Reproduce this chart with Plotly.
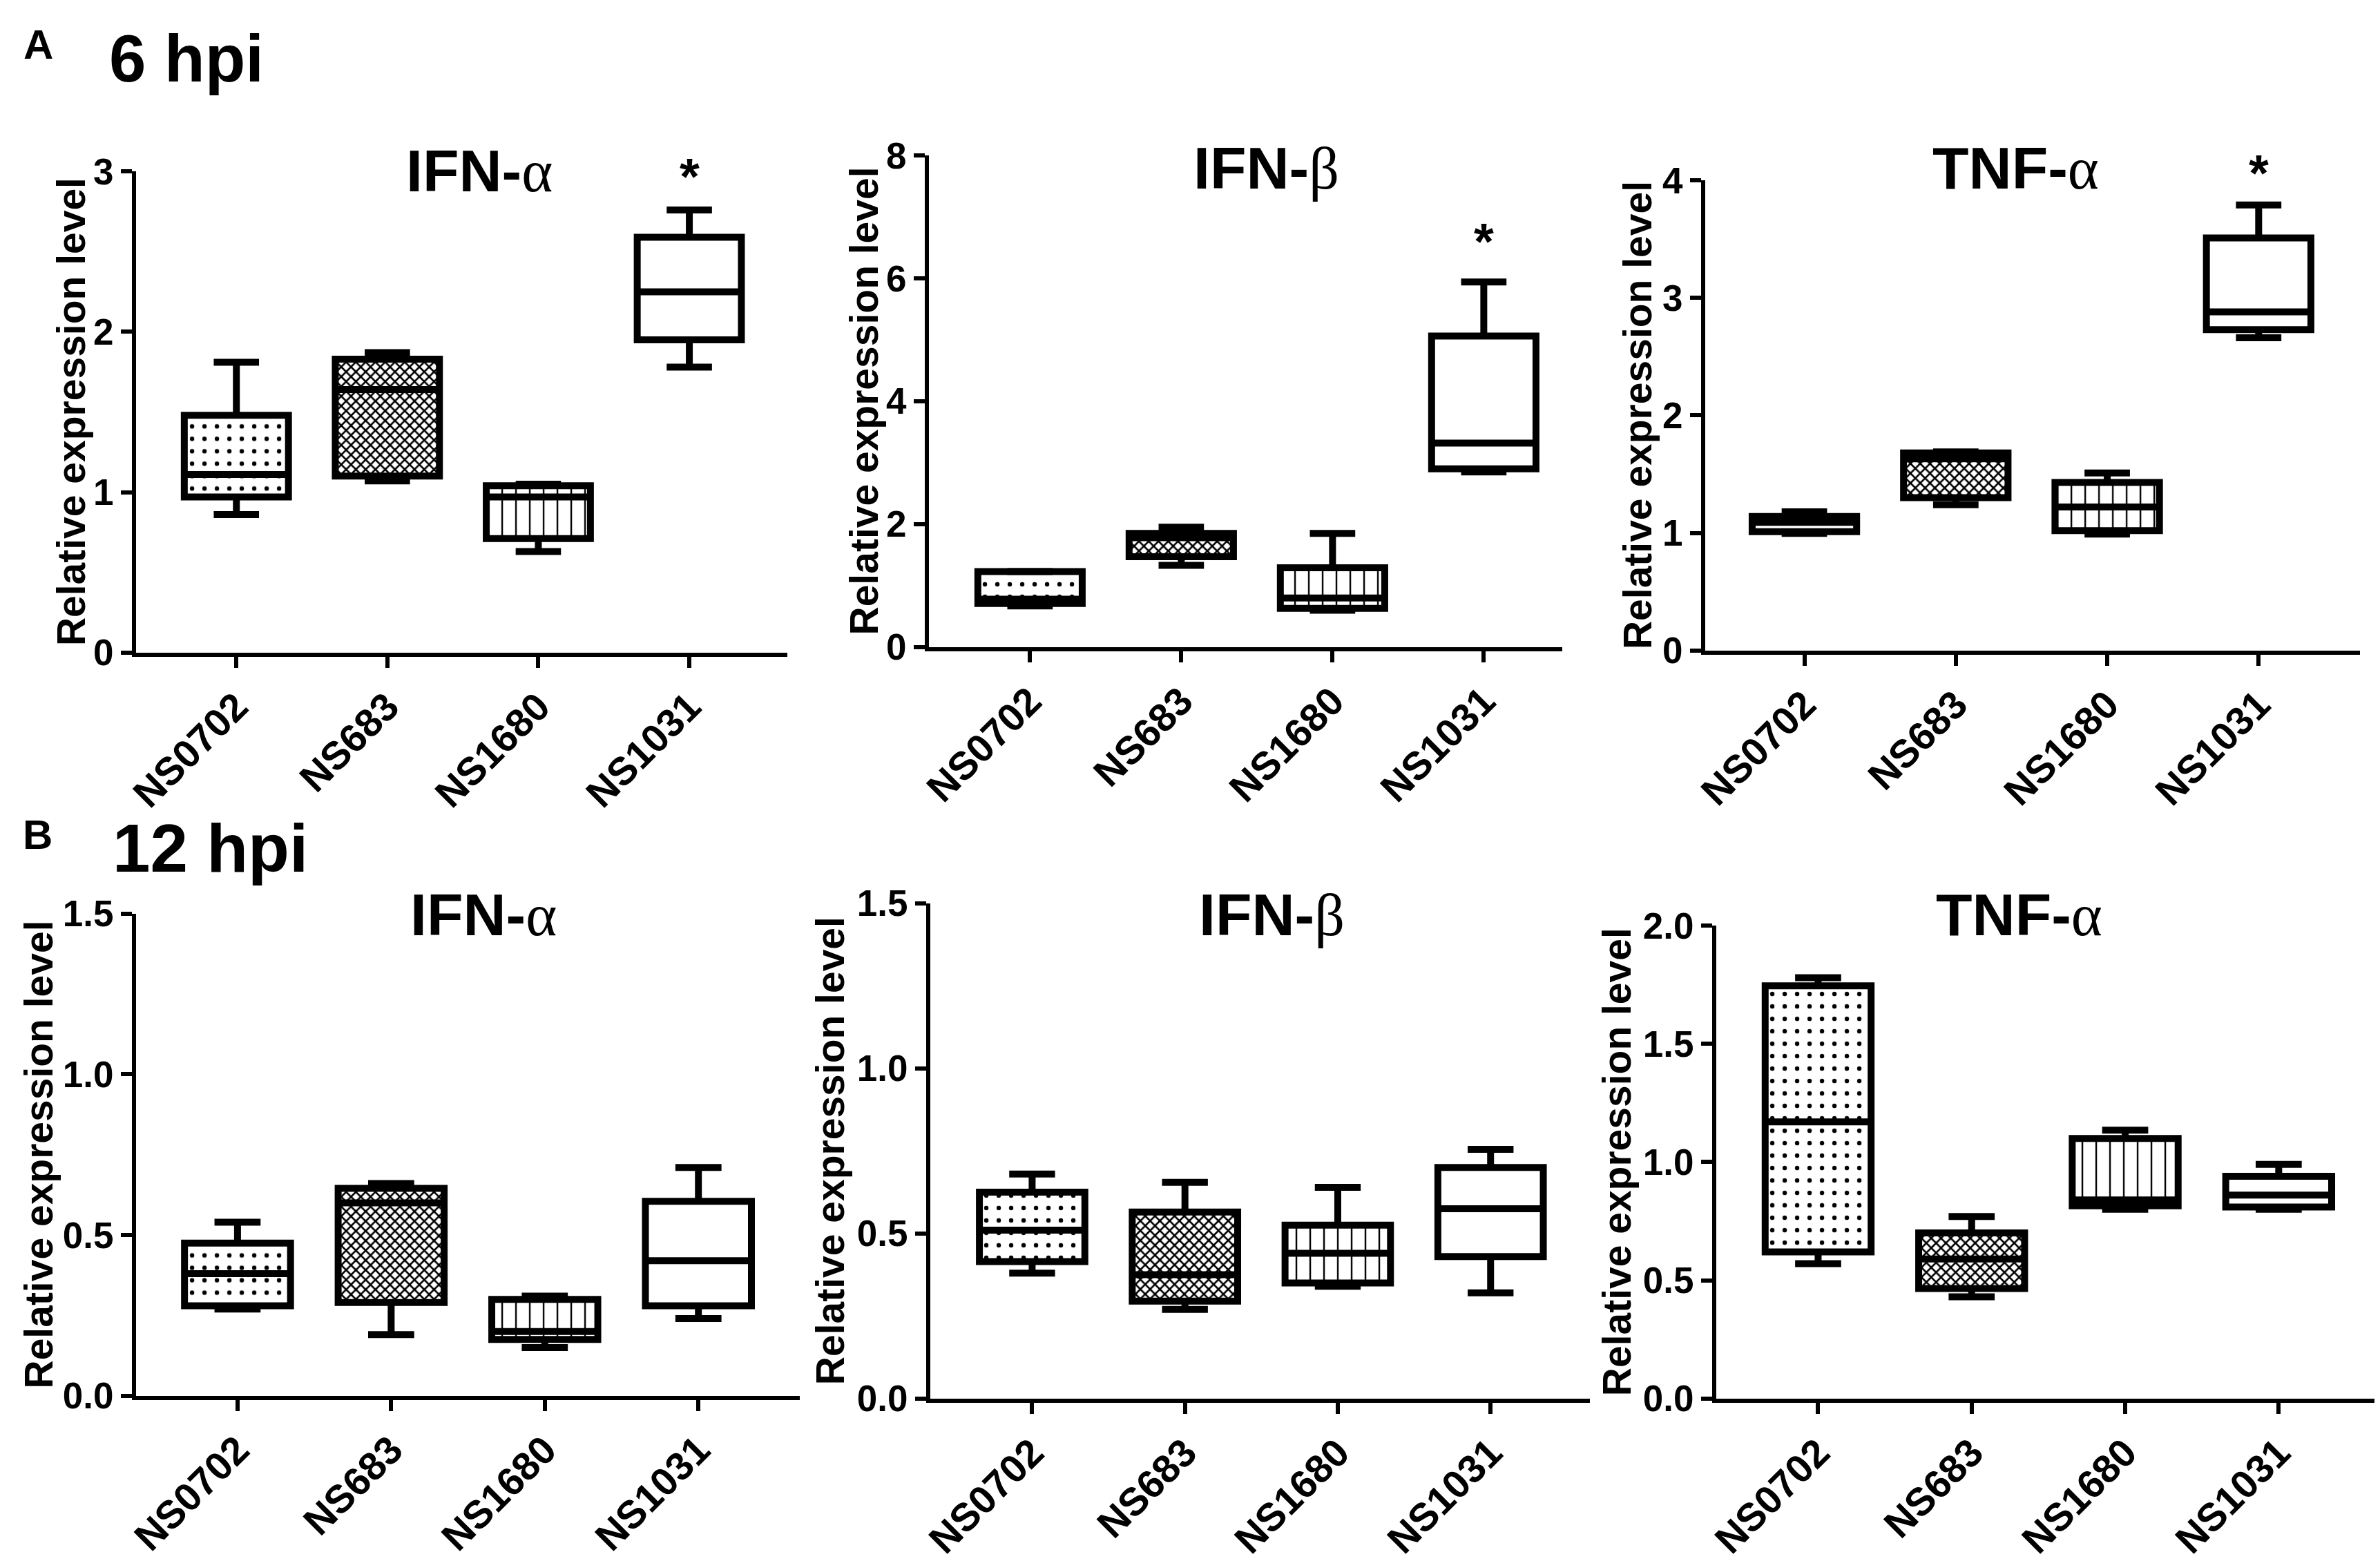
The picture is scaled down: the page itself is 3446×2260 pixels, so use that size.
import plotly.graph_objects as go

W, H = 3446, 2260
FONT = "Liberation Sans, Arial, sans-serif"

strains = ["NS0702", "NS683", "NS1680", "NS1031"]

# box-plot summaries: min, q1, median, q3, max
# 6 hpi
ifna_6_lo = [0.86, 1.07, 0.63, 1.78]
ifna_6_q1 = [0.97, 1.10, 0.71, 1.95]
ifna_6_med = [1.11, 1.64, 0.97, 2.25]
ifna_6_q3 = [1.48, 1.83, 1.04, 2.59]
ifna_6_hi = [1.81, 1.87, 1.05, 2.76]

ifnb_6_lo = [0.67, 1.33, 0.60, 2.85]
ifnb_6_q1 = [0.71, 1.47, 0.63, 2.90]
ifnb_6_med = [0.78, 1.78, 0.80, 3.32]
ifnb_6_q3 = [1.23, 1.85, 1.29, 5.06]
ifnb_6_hi = [1.23, 1.95, 1.85, 5.94]

tnfa_6_lo = [0.996, 1.24, 0.99, 2.66]
tnfa_6_q1 = [1.01, 1.30, 1.02, 2.73]
tnfa_6_med = [1.09, 1.63, 1.22, 2.88]
tnfa_6_q3 = [1.14, 1.68, 1.43, 3.51]
tnfa_6_hi = [1.18, 1.69, 1.51, 3.79]

# 12 hpi
ifna_12_lo = [0.27, 0.19, 0.15, 0.24]
ifna_12_q1 = [0.28, 0.29, 0.175, 0.28]
ifna_12_med = [0.38, 0.60, 0.20, 0.42]
ifna_12_q3 = [0.475, 0.645, 0.30, 0.605]
ifna_12_hi = [0.54, 0.66, 0.31, 0.71]

ifnb_12_lo = [0.38, 0.27, 0.34, 0.32]
ifnb_12_q1 = [0.415, 0.295, 0.35, 0.43]
ifnb_12_med = [0.51, 0.375, 0.44, 0.575]
ifnb_12_q3 = [0.625, 0.565, 0.525, 0.70]
ifnb_12_hi = [0.68, 0.655, 0.64, 0.755]

tnfa_12_lo = [0.57, 0.43, 0.80, 0.80]
tnfa_12_q1 = [0.62, 0.465, 0.815, 0.81]
tnfa_12_med = [1.17, 0.59, 0.84, 0.86]
tnfa_12_q3 = [1.745, 0.70, 1.10, 0.94]
tnfa_12_hi = [1.78, 0.77, 1.135, 0.99]

# significance stars over NS1031 at 6 hpi (height in axis units)
star_6_y = [2.97, 6.6, 4.06]

alpha = "<span style='font-family:Liberation Serif;font-weight:normal'>α</span>"
beta = "<span style='font-family:Liberation Serif;font-weight:normal'>β</span>"

# panel placement in pixels: left/right of x axis, y of 0 and of top tick,
# x of y-title centre, x-range, centre of the panel title
panels = [
    dict(title="IFN-" + alpha, d=(ifna_6_lo, ifna_6_q1, ifna_6_med, ifna_6_q3, ifna_6_hi),
         top=3, ticks=[0, 1, 2, 3], fmt="d", l=172, r=1120, y0=932, yt=217, tx=77,
         xr=[-0.664, 3.65], title_xy=(672, 216), star=star_6_y[0]),
    dict(title="IFN-" + beta, d=(ifnb_6_lo, ifnb_6_q1, ifnb_6_med, ifnb_6_q3, ifnb_6_hi),
         top=8, ticks=[0, 2, 4, 6, 8], fmt="d", l=1326, r=2248, y0=924, yt=193, tx=1231,
         xr=[-0.668, 3.52], title_xy=(1817, 212), star=star_6_y[1]),
    dict(title="TNF-" + alpha, d=(tnfa_6_lo, tnfa_6_q1, tnfa_6_med, tnfa_6_q3, tnfa_6_hi),
         top=4, ticks=[0, 1, 2, 3, 4], fmt="d", l=2456, r=3409, y0=929, yt=230, tx=2358,
         xr=[-0.654, 3.67], title_xy=(2908, 212), star=star_6_y[2]),
    dict(title="IFN-" + alpha, d=(ifna_12_lo, ifna_12_q1, ifna_12_med, ifna_12_q3, ifna_12_hi),
         top=1.5, ticks=[0, 0.5, 1.0, 1.5], fmt=".1f", l=172, r=1138, y0=2037, yt=1320, tx=30,
         xr=[-0.66, 3.66], title_xy=(678, 1322), star=None),
    dict(title="IFN-" + beta, d=(ifnb_12_lo, ifnb_12_q1, ifnb_12_med, ifnb_12_q3, ifnb_12_hi),
         top=1.5, ticks=[0, 0.5, 1.0, 1.5], fmt=".1f", l=1328, r=2288, y0=2041, yt=1305, tx=1182,
         xr=[-0.666, 3.65], title_xy=(1825, 1322), star=None),
    dict(title="TNF-" + alpha, d=(tnfa_12_lo, tnfa_12_q1, tnfa_12_med, tnfa_12_q3, tnfa_12_hi),
         top=2.0, ticks=[0, 0.5, 1.0, 1.5, 2.0], fmt=".1f", l=2472, r=3438, y0=2041, yt=1338, tx=2328,
         xr=[-0.663, 3.66], title_xy=(2913, 1322), star=None),
]

BOXW = 0.69   # box width in category units
CAPW = 0.30   # whisker cap width
LW = 10

patterns = dict(shape=[".", "x", "|", ""], size=[18, 10, 20, 10],
                solidity=[0.1, 0.45, 0.12, 0.1], fgcolor="black", bgcolor="white", fillmode="replace")

fig = go.Figure()
annotations = []

for n, p in enumerate(panels, start=1):
    lo, q1, med, q3, hi = p["d"]
    idx = list(range(len(strains)))
    xa, ya = f"x{n}", f"y{n}"
    ydom = [1 - p["y0"] / H, 1 - p["yt"] / H]

    fig.add_trace(go.Bar(
        x=idx, y=[b - a for a, b in zip(q1, q3)], base=q1, width=BOXW,
        marker=dict(color="white", line=dict(color="black", width=LW), pattern=patterns),
        xaxis=xa, yaxis=ya, showlegend=False, hoverinfo="skip"))

    # whiskers, caps and median lines
    lx, ly = [], []
    for i in idx:
        lx += [i, i, None, i, i, None]
        ly += [q3[i], hi[i], None, lo[i], q1[i], None]
        lx += [i - CAPW / 2, i + CAPW / 2, None, i - CAPW / 2, i + CAPW / 2, None]
        ly += [hi[i], hi[i], None, lo[i], lo[i], None]
        lx += [i - BOXW / 2, i + BOXW / 2, None]
        ly += [med[i], med[i], None]
    fig.add_trace(go.Scatter(x=lx, y=ly, mode="lines", line=dict(color="black", width=LW),
                             xaxis=xa, yaxis=ya, showlegend=False, hoverinfo="skip", cliponaxis=False))

    axis_common = dict(showline=True, linecolor="black", linewidth=6, ticks="outside",
                       ticklen=16, tickwidth=6, tickcolor="black", showgrid=False, zeroline=False)
    tickfont = dict(family=FONT, size=53, color="black", weight="bold")
    fig.update_layout(**{
        f"xaxis{n}": dict(domain=[p["l"] / W, p["r"] / W], anchor=ya, range=p["xr"],
                          tickvals=idx, ticktext=strains, tickangle=-45,
                          tickfont=dict(tickfont, size=57), **axis_common),
        f"yaxis{n}": dict(domain=ydom, anchor=xa, range=[0, p["top"]],
                          tickvals=p["ticks"], tickformat=p["fmt"], tickfont=tickfont, **axis_common),
    })

    # y-axis title
    annotations.append(dict(text="Relative expression level", textangle=-90, showarrow=False,
                            xref="paper", yref="paper", x=p["tx"] / W, y=sum(ydom) / 2,
                            xanchor="center", yanchor="middle",
                            font=dict(family=FONT, size=57, color="black", weight="bold")))
    # panel title
    tx, ty = p["title_xy"]
    annotations.append(dict(text=p["title"], showarrow=False, xref="paper", yref="paper",
                            x=tx / W, y=1 - ty / H, xanchor="center", yanchor="middle",
                            font=dict(family=FONT, size=86, color="black", weight="bold")))
    if p["star"] is not None:
        sy = ydom[0] + p["star"] / p["top"] * (ydom[1] - ydom[0])
        annotations.append(dict(text="*", showarrow=False, xref=xa, yref="paper", x=3, y=sy,
                                xanchor="center", yanchor="middle",
                                font=dict(family=FONT, size=74, color="black", weight="bold")))

# section labels (left edge, vertical centre, size)
for txt, x, y, size in [("A", 6, 28, 60), ("6 hpi", 131, 49, 96),
                        ("B", 5, 1203, 60), ("12 hpi", 136, 1223, 98)]:
    annotations.append(dict(text=txt, showarrow=False, xref="paper", yref="paper",
                            x=x / W, y=1 - y / H, xanchor="left", yanchor="middle",
                            font=dict(family=FONT, size=size, color="black", weight="bold")))

fig.update_layout(
    width=W, height=H,
    margin=dict(l=0, r=0, t=0, b=0),
    paper_bgcolor="white", plot_bgcolor="white",
    barmode="overlay",
    annotations=annotations,
)

fig.write_html("out.html")
